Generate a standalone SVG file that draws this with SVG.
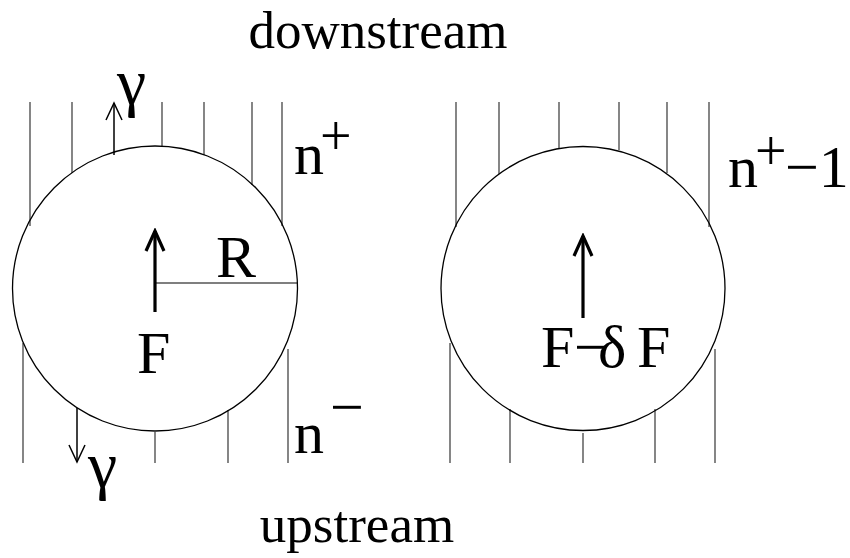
<svg xmlns="http://www.w3.org/2000/svg" width="850" height="558" viewBox="0 0 850 558">
<style>
  .bg{fill:#fff}
  .circ{fill:none;stroke:#000;stroke-width:1.3}
  .fl{stroke:#222;stroke-width:1.1;fill:none}
  .thin{stroke:#000;stroke-width:1.5;fill:none}
  .thick{stroke:#000;stroke-width:3.2;fill:none}
  .rad{stroke:#000;stroke-width:1.1}
  text{font-family:"Liberation Serif","Times New Roman",serif;fill:#000}
  .big{font-size:60px}
  .cap{font-size:53px}
  .sup{font-size:56px}
  .greek{font-size:66px}
</style>
<defs>
  <marker id="thinHead" markerUnits="userSpaceOnUse" viewBox="-20 -10 22 20" markerWidth="22" markerHeight="20" refX="0" refY="0" orient="auto">
    <path d="M-17,-8 L0,0 L-17,8" fill="none" stroke="#000" stroke-width="1.5"/>
  </marker>
  <marker id="thickHead" markerUnits="userSpaceOnUse" viewBox="-23 -12 26 24" markerWidth="26" markerHeight="24" refX="0" refY="0" orient="auto">
    <path d="M-20,-9 L0,0 L-20,9" fill="none" stroke="#000" stroke-width="3.2"/>
  </marker>
</defs>
<rect class="bg" x="0" y="0" width="850" height="558"/>

<g id="labels">
  <text class="cap" x="378" y="48" text-anchor="middle">downstream</text>
  <text class="cap" x="357" y="542" text-anchor="middle">upstream</text>
</g>

<g id="left-cell">
  <g id="left-flux-lines">
    <line class="fl" x1="30" y1="102" x2="30" y2="226"/>
    <line class="fl" x1="72" y1="102" x2="72" y2="173"/>
    <line class="fl" x1="162" y1="102" x2="162" y2="146"/>
    <line class="fl" x1="204" y1="102" x2="204" y2="155"/>
    <line class="fl" x1="252" y1="102" x2="252" y2="185"/>
    <line class="fl" x1="282" y1="102" x2="282" y2="226"/>
    <line class="fl" x1="23" y1="343" x2="23" y2="463"/>
    <line class="fl" x1="155" y1="432" x2="155" y2="463"/>
    <line class="fl" x1="228" y1="410" x2="228" y2="463"/>
    <line class="fl" x1="288" y1="349" x2="288" y2="463"/>
  </g>
  <circle id="left-sphere" class="circ" cx="155" cy="288.5" r="142.5"/>
  <line class="rad" x1="155" y1="283" x2="298" y2="283"/>
  <text class="big" x="216" y="277">R</text>
  <text class="big" x="137" y="373">F</text>
  <text class="big" x="294" y="174">n</text>
  <text class="sup" x="320" y="155">+</text>
  <text class="big" x="294" y="453">n</text>
  <text class="big" x="330" y="427">−</text>
  <text class="greek" x="117" y="104">γ</text>
  <text class="greek" x="88" y="487">γ</text>
</g>

<g id="right-cell">
  <g id="right-flux-lines">
    <line class="fl" x1="456" y1="102" x2="456" y2="227"/>
    <line class="fl" x1="499" y1="102" x2="499" y2="174"/>
    <line class="fl" x1="559" y1="102" x2="559" y2="149"/>
    <line class="fl" x1="619" y1="102" x2="619" y2="150"/>
    <line class="fl" x1="667" y1="102" x2="667" y2="173"/>
    <line class="fl" x1="709" y1="102" x2="709" y2="227"/>
    <line class="fl" x1="450" y1="343" x2="450" y2="463"/>
    <line class="fl" x1="510" y1="409" x2="510" y2="463"/>
    <line class="fl" x1="583" y1="433" x2="583" y2="463"/>
    <line class="fl" x1="655" y1="409" x2="655" y2="463"/>
    <line class="fl" x1="715" y1="349" x2="715" y2="463"/>
  </g>
  <circle id="right-sphere" class="circ" cx="583" cy="288.5" r="142"/>
  <text class="big" x="541" y="367">F</text>
  <text class="big" x="574" y="367">−</text>
  <text class="big" x="598" y="367">δ</text>
  <text class="big" x="637" y="367">F</text>
  <text class="big" x="728" y="187">n</text>
  <text class="sup" x="755" y="170">+</text>
  <text class="big" x="785" y="187">−1</text>
</g>

<g id="connectors">
  <line class="thin" x1="114" y1="155" x2="114" y2="103" marker-end="url(#thinHead)"/>
  <line class="thin" x1="77" y1="408" x2="77" y2="462" marker-end="url(#thinHead)"/>
  <line class="thick" x1="155" y1="312" x2="155" y2="231" marker-end="url(#thickHead)"/>
  <line class="thick" x1="583" y1="318" x2="583" y2="236" marker-end="url(#thickHead)"/>
</g>
</svg>
